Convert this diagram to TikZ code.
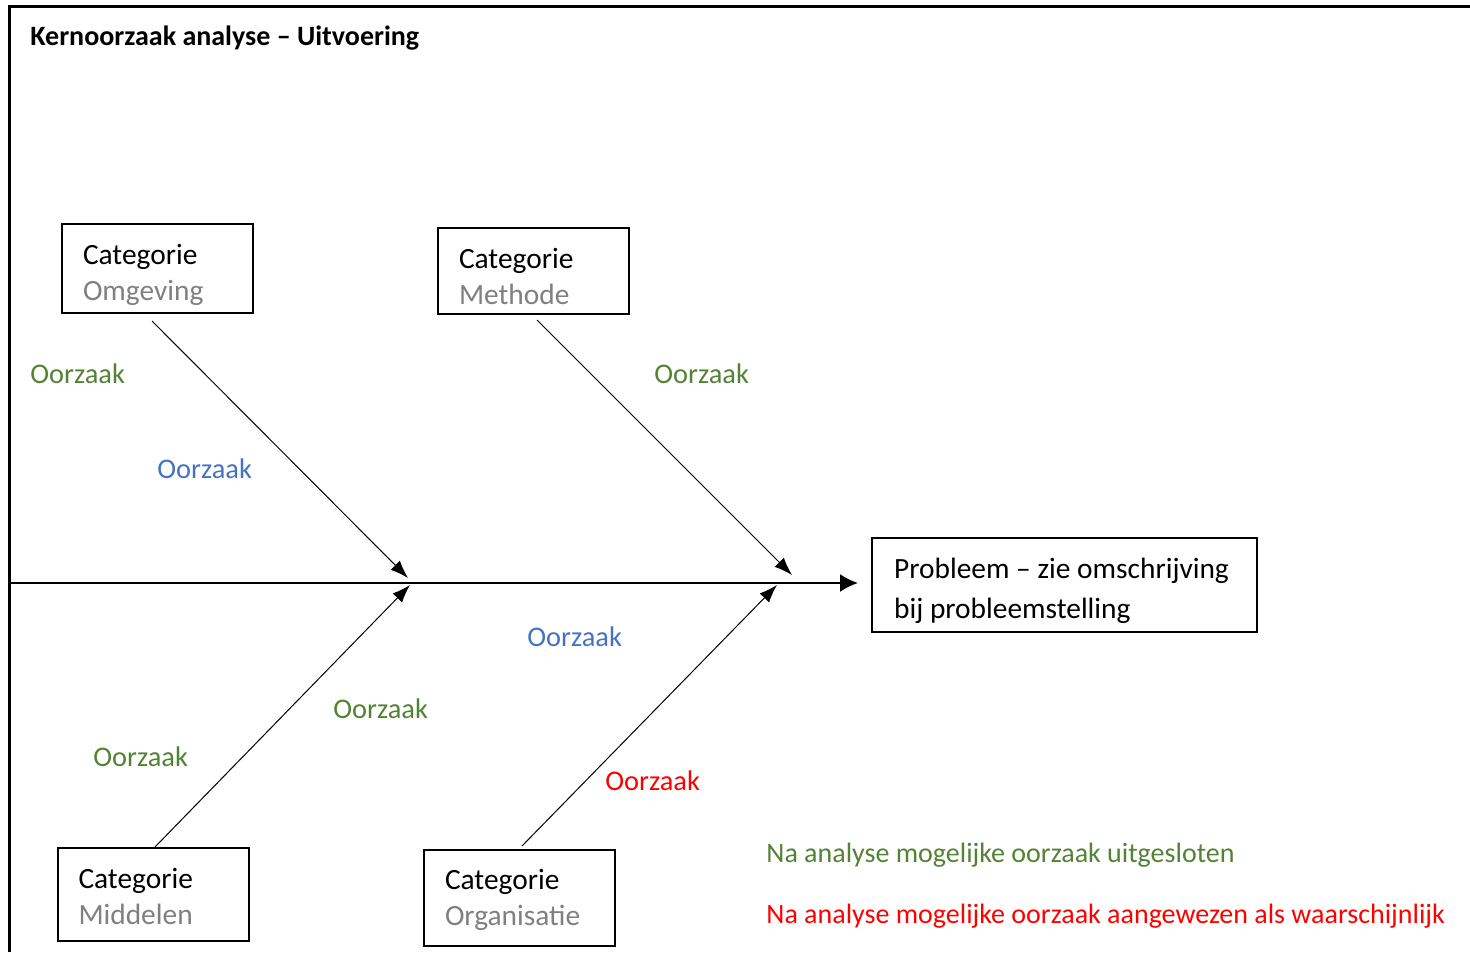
\documentclass[tikz,border=0pt]{standalone}
\usepackage{fontspec}
\setmainfont{Carlito}
\usetikzlibrary{arrows.meta}

\definecolor{oorgreen}{RGB}{84,130,53}
\definecolor{oorblue}{RGB}{68,114,196}
\definecolor{oorred}{RGB}{255,0,0}
\definecolor{catgray}{RGB}{128,128,128}

% category box text: first line pushed down a little
\newcommand{\cattext}[2][16.5pt]{\rule{0pt}{#1}Categorie\\\textcolor{catgray}{#2}}

\tikzset{
  catbox/.style={draw, line width=1pt, minimum width=95.5pt,
    text width=74.5pt, align=left, inner xsep=10pt,
    font=\fontsize{14.7}{18}\selectfont},
  oorzaak/.style={anchor=west, inner sep=0pt, font=\fontsize{14.2}{18}\selectfont},
  legend/.style={anchor=west, inner sep=0pt, font=\fontsize{14}{17}\selectfont},
  bone/.style={line width=0.5pt, -{Latex[length=9pt,width=6.5pt]}}
}

\begin{document}
\begin{tikzpicture}[x=0.5pt,y=-0.5pt]
    \useasboundingbox (0,0) rectangle (1470,952);

    % Frame and title
    \draw[line width=1.5pt] (9,952) |- (1470,7);
    \node[anchor=west, inner sep=0pt, font=\fontsize{14}{17}\selectfont\bfseries] (title) at (30,38) {Kernoorzaak analyse -- Uitvoering};

    % Categories
    \node[catbox, minimum height=44.5pt] (omg) at (157.5,268.5) {\cattext{Omgeving}};
    \node[catbox, minimum height=43pt] (met) at (533.5,271) {\cattext[15.5pt]{Methode}};
    \node[catbox, minimum height=46.5pt] (mid) at (153,894.5) {\cattext[12.5pt]{Middelen}};
    \node[catbox, minimum height=48pt] (org) at (519.5,898) {\cattext[12.5pt]{Organisatie}};

    % Problem
    \node[draw, line width=1pt, minimum width=192.5pt, minimum height=47pt,
      align=left, inner xsep=11pt, font=\fontsize{14.7}{20}\selectfont] (prob) at (1064.5,585)
      {\rule{0pt}{16pt}Probleem -- zie omschrijving\hspace*{3pt}\\bij probleemstelling};

    % Spine
    \coordinate (spinestart) at (9,583);
    \coordinate (spineend) at (858,583);
    \draw[line width=1pt, -{Latex[length=9pt,width=9pt]}] (spinestart) -- (spineend);

    % Bones
    \coordinate (omgtail) at (152,321);
    \coordinate (omgtip) at (408,578);
    \coordinate (mettail) at (537,320);
    \coordinate (mettip) at (792,575);
    \coordinate (midtail) at (155,847);
    \coordinate (midtip) at (410,585);
    \coordinate (orgtail) at (522,846);
    \coordinate (orgtip) at (777,585);
    \draw[bone] (omgtail) -- (omgtip);
    \draw[bone] (mettail) -- (mettip);
    \draw[bone] (midtail) -- (midtip);
    \draw[bone] (orgtail) -- (orgtip);

    % Causes
    \node[oorzaak, oorgreen] (c1) at (30,374) {Oorzaak};
    \node[oorzaak, oorblue] (c2) at (157,469) {Oorzaak};
    \node[oorzaak, oorgreen] (c3) at (654,374) {Oorzaak};
    \node[oorzaak, oorblue] (c4) at (527,637) {Oorzaak};
    \node[oorzaak, oorgreen] (c5) at (333,709) {Oorzaak};
    \node[oorzaak, oorgreen] (c6) at (93,757) {Oorzaak};
    \node[oorzaak, oorred] (c7) at (605,781) {Oorzaak};

    % Legend
    \node[legend, oorgreen] (leg1) at (766,855) {Na analyse mogelijke oorzaak uitgesloten};
    \node[legend, oorred] (leg2) at (766,916) {Na analyse mogelijke oorzaak aangewezen als waarschijnlijk};

\end{tikzpicture}
\end{document}
